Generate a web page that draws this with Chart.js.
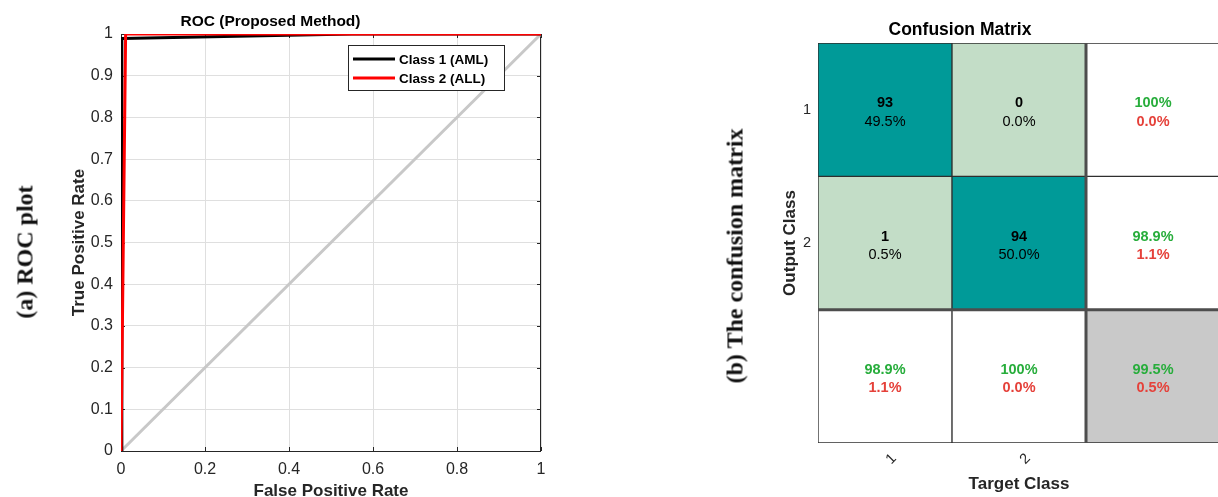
<!DOCTYPE html>
<html>
<head>
<meta charset="utf-8">
<script src="https://cdn.jsdelivr.net/npm/chart.js@4.4.1/dist/chart.umd.min.js"></script>
<style>
  html, body { margin: 0; padding: 0; background: #fff; overflow: hidden; }
  body { width: 1218px; height: 497px; position: relative; }
  .panel { position: absolute; top: 0; }
  .side-label {
    position: absolute;
    transform: translate(-50%, -50%) rotate(-90deg);
    white-space: nowrap;
    font: bold 24px "Liberation Serif", "DejaVu Serif", serif;
    color: #111;
    z-index: 2;
  }
</style>
</head>
<body>
<div class="side-label" style="left:25px; top:252px;">(a) ROC plot</div>
<div class="side-label" style="left:735px; top:256px;">(b) The confusion matrix</div>

<div class="panel" style="left:0; width:560px; height:500px;"><canvas id="rocChart"></canvas></div>
<div class="panel" style="left:700px; width:540px; height:500px;"><canvas id="confChart"></canvas></div>

<script>
// --- ROC curve data ---
const fprAML = [0, 0.002, 0.55, 1];
const tprAML = [0, 0.989, 1, 1];
const fprALL = [0, 0.011, 1];
const tprALL = [0, 1, 1];
const chanceFpr = [0, 1];
const chanceTpr = [0, 1];
const rocLabels = ['Class 1 (AML)', 'Class 2 (ALL)'];

// --- confusion matrix data ---
const classNames = ['1', '2'];
const countsRow1 = [93, 0];
const countsRow2 = [1, 94];
const pctRow1 = ['49.5%', '0.0%'];
const pctRow2 = ['0.5%', '50.0%'];
const rowGood = ['100%', '98.9%'];
const rowBad = ['0.0%', '1.1%'];
const colGood = ['98.9%', '100%'];
const colBad = ['1.1%', '0.0%'];
const overallGood = '99.5%';
const overallBad = '0.5%';

const SANS = '"Liberation Sans", Arial, sans-serif';
const AXIS_TEXT = '#262626';
const TEAL = '#009a98';
const PALE = '#c3ddc7';
const GREY = '#c9c9c9';
const GOOD = '#27ad3b';
const BAD = '#e5413a';

const toPoints = (xs, ys) => xs.map((x, i) => ({ x: x, y: ys[i] }));
const tickText = v => String(+v.toFixed(2));

// ---------------- ROC chart ----------------
// box around the axes with small inward ticks, and the white legend inside the plot
const rocFrame = {
    id: 'rocFrame',
    beforeDatasetsDraw(chart) {
        const { ctx, chartArea: a, scales } = chart;
        ctx.save();
        ctx.strokeStyle = AXIS_TEXT;
        ctx.lineWidth = 1;
        ctx.strokeRect(a.left + 0.5, a.top + 0.5, a.right - a.left - 1, a.bottom - a.top);
        ctx.beginPath();
        scales.x.ticks.forEach(t => {
            const x = Math.round(scales.x.getPixelForValue(t.value)) + 0.5;
            ctx.moveTo(x, a.bottom); ctx.lineTo(x, a.bottom - 4);
            ctx.moveTo(x, a.top); ctx.lineTo(x, a.top + 4);
        });
        scales.y.ticks.forEach(t => {
            const y = Math.round(scales.y.getPixelForValue(t.value)) + 0.5;
            ctx.moveTo(a.left, y); ctx.lineTo(a.left + 4, y);
            ctx.moveTo(a.right, y); ctx.lineTo(a.right - 4, y);
        });
        ctx.stroke();
        ctx.restore();
    },
    afterDatasetsDraw(chart) {
        const { ctx, chartArea: a } = chart;
        const w = 156, h = 45;
        const left = a.right - 37 - w, top = a.top + 11;
        ctx.save();
        ctx.fillStyle = '#fff';
        ctx.fillRect(left, top, w, h);
        ctx.strokeStyle = AXIS_TEXT;
        ctx.lineWidth = 1;
        ctx.strokeRect(left + 0.5, top + 0.5, w, h);
        ctx.font = 'bold 13.5px ' + SANS;
        ctx.textBaseline = 'middle';
        ctx.fillStyle = '#000';
        [0, 1].forEach(i => {
            const ds = chart.data.datasets[i];
            const y = top + 14 + i * 19;
            ctx.strokeStyle = ds.borderColor;
            ctx.lineWidth = 3;
            ctx.beginPath();
            ctx.moveTo(left + 5, y);
            ctx.lineTo(left + 47, y);
            ctx.stroke();
            ctx.fillText(ds.label, left + 51, y + 1);
        });
        ctx.restore();
    }
};

new Chart(document.getElementById('rocChart'), {
    type: 'scatter',
    data: {
        datasets: [
            { label: rocLabels[0], data: toPoints(fprAML, tprAML), borderColor: '#000000', order: 2 },
            { label: rocLabels[1], data: toPoints(fprALL, tprALL), borderColor: '#ff0000', order: 1 },
            { label: 'chance', data: toPoints(chanceFpr, chanceTpr), borderColor: '#c8c8c8', order: 3 }
        ]
    },
    options: {
        responsive: true,
        maintainAspectRatio: false,
        animation: false,
        showLine: true,
        elements: {
            point: { radius: 0, hoverRadius: 0 },
            line: { borderWidth: 3, tension: 0, fill: false }
        },
        layout: { padding: { left: 0, right: 19, top: 0, bottom: 0 } },
        scales: {
            x: {
                type: 'linear', min: 0, max: 1,
                afterFit: s => { s.height = 49; },
                ticks: { stepSize: 0.2, padding: 9, color: AXIS_TEXT, font: { family: SANS, size: 16 },
                         callback: tickText },
                grid: { color: '#dfdfdf', drawTicks: false },
                border: { display: false },
                title: { display: true, text: 'False Positive Rate', color: AXIS_TEXT,
                         font: { family: SANS, size: 17, weight: 'bold' }, padding: { top: 0, bottom: -2 } }
            },
            y: {
                type: 'linear', min: 0, max: 1,
                afterFit: s => { s.width = 121; },
                ticks: { stepSize: 0.1, padding: 8, color: AXIS_TEXT, font: { family: SANS, size: 16 },
                         callback: tickText },
                grid: { color: '#dfdfdf', drawTicks: false },
                border: { display: false },
                title: { display: true, text: 'True Positive Rate', color: AXIS_TEXT,
                         font: { family: SANS, size: 17, weight: 'bold' }, padding: { top: 68.8, bottom: 0 } }
            }
        },
        plugins: {
            legend: { display: false },
            tooltip: { enabled: false },
            title: {
                display: true, text: 'ROC (Proposed Method)', color: '#000',
                font: { family: SANS, size: 15.5, weight: 'bold' },
                padding: { top: 12.5, bottom: 2.9 }
            }
        }
    },
    plugins: [rocFrame]
});

// ---------------- confusion matrix ----------------
// each row of the matrix is one dataset of floating bars [row, row + 1]
const rowFill = [
    [TEAL, PALE, '#ffffff'],
    [PALE, TEAL, '#ffffff'],
    ['#ffffff', '#ffffff', GREY]
];
const rowDataset = r => ({
    data: [[r, r + 1], [r, r + 1], [r, r + 1]],
    backgroundColor: rowFill[r],
    borderColor: '#2e2e2e',
    borderWidth: 1,
    borderSkipped: false,
    grouped: false,
    barPercentage: 1,
    categoryPercentage: 1
});

function cellText(r, c) {
    const counts = [countsRow1, countsRow2];
    const pcts = [pctRow1, pctRow2];
    if (r < 2 && c < 2) return [[String(counts[r][c]), 'bold', '#000'], [pcts[r][c], 'normal', '#000']];
    if (r < 2) return [[rowGood[r], 'bold', GOOD], [rowBad[r], 'bold', BAD]];
    if (c < 2) return [[colGood[c], 'bold', GOOD], [colBad[c], 'bold', BAD]];
    return [[overallGood, 'bold', GOOD], [overallBad, 'bold', BAD]];
}

const matrixDecor = {
    id: 'matrixDecor',
    afterDatasetsDraw(chart) {
        const { ctx, chartArea: a, scales } = chart;
        ctx.save();
        // heavier separators before the summary column / row
        ctx.strokeStyle = '#4d4d4d';
        ctx.lineWidth = 3;
        const xs = scales.x.getPixelForValue(1.5);
        const ys = scales.y.getPixelForValue(2);
        ctx.beginPath();
        ctx.moveTo(xs, a.top); ctx.lineTo(xs, a.bottom);
        ctx.moveTo(a.left, ys); ctx.lineTo(a.right, ys);
        ctx.stroke();

        ctx.textAlign = 'center';
        ctx.textBaseline = 'middle';
        chart.data.datasets.forEach((ds, r) => {
            chart.getDatasetMeta(r).data.forEach((bar, c) => {
                const cy = (bar.y + bar.base) / 2;
                cellText(r, c).forEach(([txt, weight, color], k) => {
                    ctx.font = weight + ' 14.5px ' + SANS;
                    ctx.fillStyle = color;
                    ctx.fillText(txt, bar.x, cy - 6.5 + k * 18.5);
                });
            });
        });
        ctx.restore();
    }
};

new Chart(document.getElementById('confChart'), {
    type: 'bar',
    data: {
        labels: classNames.concat(['']),
        datasets: [rowDataset(0), rowDataset(1), rowDataset(2)]
    },
    options: {
        responsive: true,
        maintainAspectRatio: false,
        animation: false,
        layout: { padding: { left: 0, right: 20, top: 0, bottom: 0 } },
        scales: {
            x: {
                type: 'category',
                afterFit: s => { s.height = 57; },
                ticks: { minRotation: 45, maxRotation: 45, padding: 7, labelOffset: 9, color: AXIS_TEXT,
                         font: { family: SANS, size: 14.5 } },
                grid: { display: false, drawTicks: false },
                border: { display: false },
                title: { display: true, text: 'Target Class', color: AXIS_TEXT,
                         font: { family: SANS, size: 17, weight: 'bold' }, padding: { top: 0, bottom: 5.8 } }
            },
            y: {
                type: 'linear', min: 0, max: 3, reverse: true,
                afterFit: s => { s.width = 118; },
                afterBuildTicks: s => { s.ticks = classNames.map((n, i) => ({ value: i + 0.5 })); },
                ticks: { padding: 7, color: AXIS_TEXT, font: { family: SANS, size: 14.5 },
                         callback: (v, i) => classNames[i] },
                grid: { display: false, drawTicks: false },
                border: { display: false },
                title: { display: true, text: 'Output Class', color: AXIS_TEXT,
                         font: { family: SANS, size: 17, weight: 'bold' }, padding: { top: 79.8, bottom: 0 } }
            }
        },
        plugins: {
            legend: { display: false },
            tooltip: { enabled: false },
            title: {
                display: true, text: 'Confusion Matrix', color: '#000',
                font: { family: SANS, size: 17.5, weight: 'bold' },
                padding: { top: 19.3, bottom: 2.7 }
            }
        }
    },
    plugins: [matrixDecor]
});
</script>
</body>
</html>
